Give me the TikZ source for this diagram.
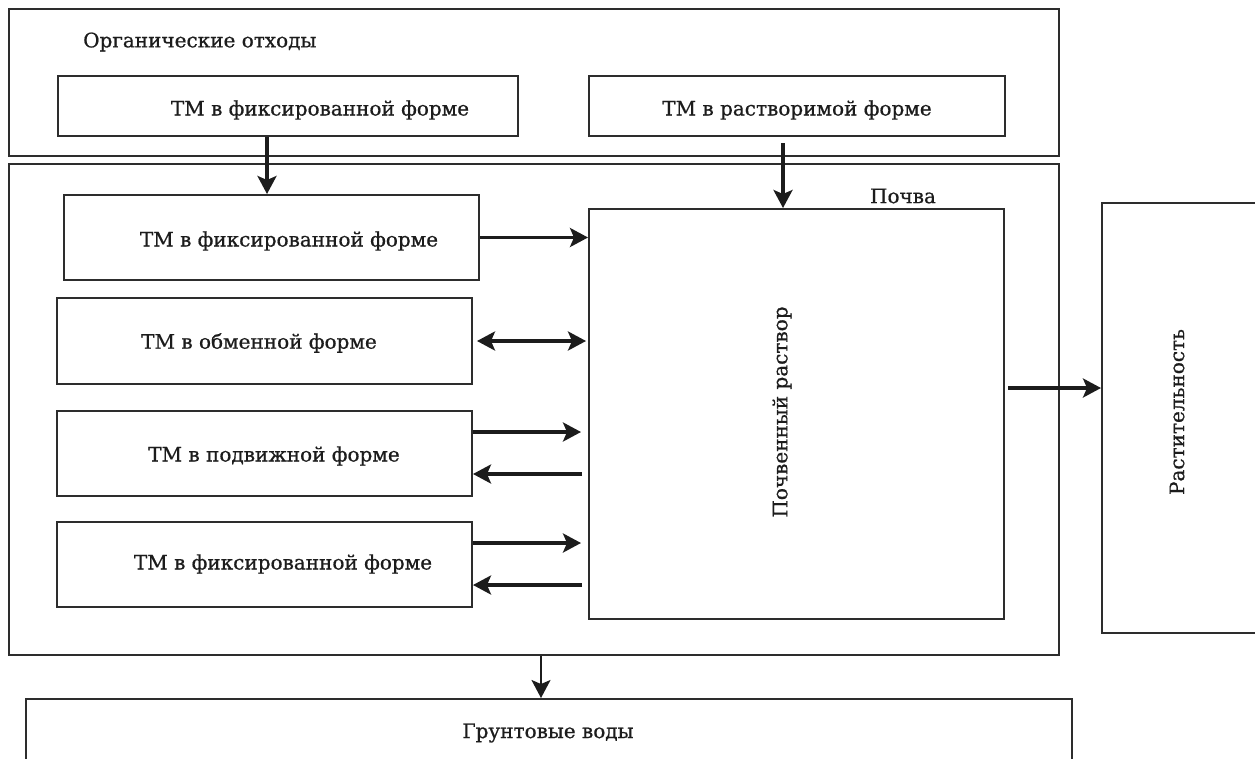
\documentclass[tikz,border=0pt]{standalone}
\usepackage{fontspec}
\setmainfont{DejaVu Serif}[FakeBold=0.7]
\definecolor{LineGray}{RGB}{45,45,45}
\definecolor{InkBlack}{RGB}{28,28,28}
\usetikzlibrary{arrows.meta, positioning}

\begin{document}
\begin{tikzpicture}[x=1pt, y=-1pt,
    box/.style={draw=LineGray, line width=2pt, inner sep=0pt},
    lbl/.style={text=InkBlack, font=\fontsize{20}{24}\selectfont, inner sep=0pt},
    flow/.style={draw=InkBlack, line width=3.2pt, -{Stealth[length=18pt, width=19pt, inset=4pt]}},
    flowboth/.style={flow, {Stealth[length=18pt, width=19pt, inset=4pt]}-{Stealth[length=18pt, width=19pt, inset=4pt]}}]
          \useasboundingbox (0,0) rectangle (1255,758);
          \fill[white] (0,0) rectangle (1255,758);
          \node[box, minimum width=1050pt, minimum height=147pt] (waste) at (534,82.5) {};
          \node[box, minimum width=460pt, minimum height=60pt] (wasteFix) at (288,106) {};
          \node[box, minimum width=416pt, minimum height=60pt] (wasteSol) at (797,106) {};
          \node[box, minimum width=1050pt, minimum height=491pt] (soil) at (534,409.5) {};
          \node[box, minimum width=415pt, minimum height=85pt] (fixA) at (271.5,237.5) {};
          \node[box, minimum width=415pt, minimum height=86pt] (exch) at (264.5,341) {};
          \node[box, minimum width=415pt, minimum height=85pt] (mob) at (264.5,453.5) {};
          \node[box, minimum width=415pt, minimum height=85pt] (fixB) at (264.5,564.5) {};
          \node[box, minimum width=415pt, minimum height=410pt] (solution) at (796.5,414) {};
          \node[box, minimum width=180pt, minimum height=430pt] (plants) at (1192,418) {};
          \node[box, minimum width=1046pt, minimum height=90pt] (ground) at (549,744) {};
          \node[lbl, anchor=west] (wasteTxt) at (83,42) {Органические отходы};
          \node[lbl] (wasteFixTxt) at (320,110) {ТМ в фиксированной форме};
          \node[lbl] (wasteSolTxt) at (797,110) {ТМ в растворимой форме};
          \node[lbl] (soilTxt) at (903,196) {Почва};
          \node[lbl] (fixATxt) at (289,241) {ТМ в фиксированной форме};
          \node[lbl] (exchTxt) at (259,343) {ТМ в обменной форме};
          \node[lbl] (mobTxt) at (274,456) {ТМ в подвижной форме};
          \node[lbl] (fixBTxt) at (283,564) {ТМ в фиксированной форме};
          \node[lbl, rotate=90] (solutionTxt) at (782,412) {Почвенный раствор};
          \node[lbl, rotate=90] (plantsTxt) at (1177,412) {Растительность};
          \node[lbl] (groundTxt) at (548,733) {Грунтовые воды};
          \coordinate (dropFix) at (267,0);
          \coordinate (dropSol) at (783,0);
          \coordinate (dropGround) at (541,0);
          \coordinate (mobIn) at ([yshift=21.5pt]mob.east);
          \coordinate (mobOut) at ([yshift=-20.5pt]mob.east);
          \coordinate (fixBIn) at ([yshift=21.5pt]fixB.east);
          \coordinate (fixBOut) at ([yshift=-20.5pt]fixB.east);
          \coordinate (solOut) at ([yshift=26pt]solution.east);
          \draw[flow] (wasteFix.south -| dropFix) -- (fixA.north -| dropFix);
          \draw[flow, shorten <=6pt] (wasteSol.south -| dropSol) -- (solution.north -| dropSol);
          \draw[flow] (fixA.east) -- (fixA.east -| solution.west);
          \draw[flowboth, shorten <=4pt, shorten >=2pt] (exch.east) -- (exch.east -| solution.west);
          \draw[flow, shorten >=7pt] (mobIn) -- (mobIn -| solution.west);
          \draw[flow, shorten <=6pt] (mobOut -| solution.west) -- (mobOut);
          \draw[flow, shorten >=7pt] (fixBIn) -- (fixBIn -| solution.west);
          \draw[flow, shorten <=6pt] (fixBOut -| solution.west) -- (fixBOut);
          \draw[flow, shorten <=3pt] (solOut) -- (solOut -| plants.west);
          \draw[flow, line width=2pt] (soil.south -| dropGround) -- (ground.north -| dropGround);
        \end{tikzpicture}
\end{document}
